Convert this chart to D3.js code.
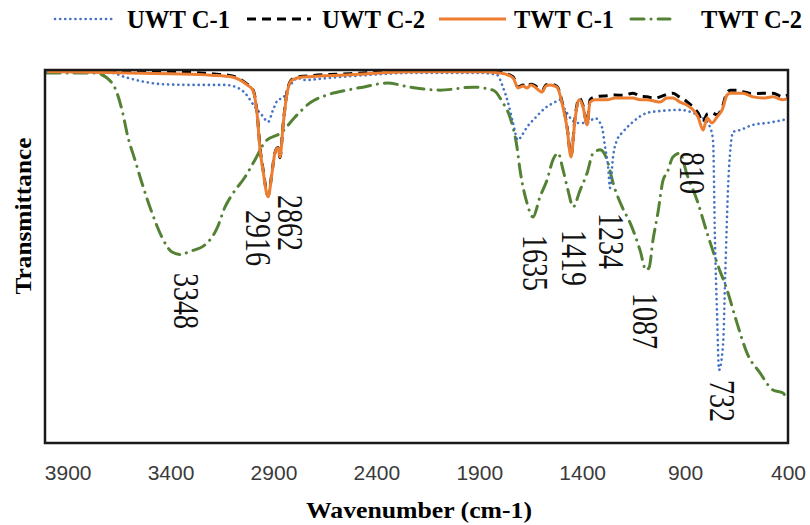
<!DOCTYPE html>
<html>
<head>
<meta charset="utf-8">
<script src="https://cdn.jsdelivr.net/npm/d3@7"></script>
<style>
  body { margin: 0; background: #fff; }
  svg { display: block; }
  .tick text { font-family: "Liberation Sans", Arial, sans-serif; font-size: 21px; fill: #3a3a3a; }
  .legend text, .axis-title { font-family: "Liberation Serif", "Times New Roman", serif; font-weight: bold; fill: #000; }
  .peak { font-family: "Liberation Serif", "Times New Roman", serif; font-size: 28px; fill: #111; }
</style>
</head>
<body>
<svg width="810" height="525"></svg>
<script>
// series: [wavenumber, transmittance]
const uwtC1 = [
	[4000, 99.5], [3684, 99.2], [3621, 98.1], [3524, 96.8], [3442, 96.2], [3281, 96.0], [3135, 96.0],
	[3072, 95.2], [3038, 93.8], [2990, 90.1], [2956, 87.9], [2926, 86.1], [2902, 89.3], [2878, 92.0],
	[2854, 92.5], [2829, 95.2], [2810, 96.5], [2781, 97.9], [2756, 97.3], [2625, 97.9], [2431, 98.7],
	[2236, 99.2], [1896, 99.2], [1814, 98.7], [1785, 95.4], [1760, 91.2], [1736, 85.8], [1712, 81.2],
	[1692, 82.6], [1668, 84.7], [1629, 87.1], [1580, 89.8], [1532, 91.4], [1508, 92.0], [1483, 89.3],
	[1425, 85.8], [1376, 85.8], [1338, 87.1], [1304, 84.7], [1289, 79.4], [1274, 74.0], [1265, 68.4],
	[1250, 76.7], [1231, 81.2], [1202, 83.4], [1153, 86.1], [1085, 88.5], [1022, 89.0], [925, 89.3],
	[861, 88.5], [813, 87.1], [779, 84.7], [764, 81.0], [755, 55.0], [745, 35.0], [735, 19.6],
	[715, 27.0], [705, 45.0], [690, 70.0], [676, 81.0], [667, 83.4], [633, 83.9], [570, 85.3],
	[502, 85.8], [424, 86.6], [400, 86.9]
];
const uwtC2 = [
	[4000, 99.8], [3700, 99.6], [3400, 99.5], [3200, 99.0], [3100, 98.4], [3028, 96.2], [3000, 94.8],
	[2980, 88.8], [2965, 79.0], [2951, 73.5], [2926, 66.3], [2907, 72.6], [2893, 77.8], [2878, 79.2],
	[2868, 76.5], [2854, 84.9], [2834, 94.0], [2810, 97.5], [2756, 98.3], [2528, 99.0], [2236, 99.7],
	[1896, 99.7], [1799, 99.4], [1736, 98.2], [1712, 95.4], [1687, 96.0], [1668, 95.5], [1649, 96.2],
	[1629, 95.8], [1595, 94.4], [1576, 96.0], [1556, 96.2], [1522, 95.6], [1498, 91.5], [1474, 85.0],
	[1454, 77.0], [1435, 87.0], [1415, 92.5], [1396, 90.5], [1376, 85.6], [1362, 92.0], [1338, 92.8],
	[1279, 93.1], [1240, 93.3], [1202, 93.2], [1153, 93.8], [1119, 93.0], [1085, 92.8], [1051, 92.4],
	[1022, 92.8], [988, 93.5], [959, 93.8], [934, 93.0], [891, 91.5], [861, 90.0], [837, 88.5],
	[813, 86.0], [793, 88.2], [769, 88.5], [745, 88.0], [720, 90.0], [696, 94.0], [681, 94.6],
	[640, 94.6], [619, 94.2], [570, 93.6], [521, 93.8], [473, 93.8], [424, 92.8], [400, 93.3]
];
const twtC1 = [
	[4000, 99.6], [3700, 99.3], [3400, 99.0], [3200, 98.6], [3100, 98.1], [3028, 96.0], [3000, 94.6],
	[2980, 88.5], [2965, 78.6], [2951, 73.2], [2926, 66.0], [2907, 72.4], [2893, 77.7], [2878, 79.1],
	[2868, 76.7], [2854, 84.7], [2834, 93.8], [2810, 97.3], [2756, 98.1], [2528, 98.7], [2236, 99.5],
	[1896, 99.5], [1799, 99.2], [1736, 97.9], [1712, 95.2], [1687, 95.7], [1668, 95.2], [1649, 96.0],
	[1629, 95.4], [1595, 94.1], [1576, 95.7], [1556, 96.0], [1522, 95.4], [1498, 91.2], [1474, 84.7],
	[1454, 76.7], [1435, 86.6], [1415, 92.0], [1396, 90.1], [1376, 85.3], [1362, 91.4], [1338, 92.0],
	[1279, 92.0], [1240, 92.5], [1202, 92.5], [1153, 92.5], [1119, 92.0], [1085, 92.0], [1051, 91.7],
	[1022, 91.4], [988, 92.5], [959, 92.5], [925, 91.4], [891, 90.6], [861, 89.3], [837, 87.4],
	[813, 83.9], [793, 87.1], [769, 85.8], [745, 87.4], [720, 89.3], [696, 93.3], [681, 93.8],
	[619, 93.8], [570, 92.8], [521, 92.5], [473, 92.8], [424, 92.0], [400, 92.5]
];
const twtC2 = [
	[4000, 99.2], [3767, 99.2], [3684, 96.5], [3636, 89.3], [3607, 82.0], [3573, 75.9], [3539, 69.7],
	[3490, 61.7], [3442, 55.2], [3393, 51.2], [3348, 50.5], [3315, 51.2], [3233, 53.1], [3174, 57.6],
	[3135, 63.3], [3096, 67.0], [3038, 71.3], [2990, 75.9], [2941, 80.7], [2858, 83.4], [2795, 87.4],
	[2722, 91.2], [2640, 93.3], [2543, 94.6], [2465, 95.4], [2348, 96.5], [2236, 95.4], [2091, 94.6],
	[1930, 95.4], [1833, 94.6], [1785, 91.2], [1751, 87.4], [1717, 79.4], [1702, 73.2], [1668, 64.3],
	[1639, 60.6], [1605, 66.0], [1571, 70.5], [1542, 75.9], [1517, 77.7], [1493, 73.2], [1469, 67.8],
	[1444, 63.3], [1410, 67.8], [1376, 72.4], [1347, 77.7], [1313, 78.6], [1279, 75.9], [1250, 69.7],
	[1206, 63.3], [1167, 59.0], [1119, 51.7], [1090, 46.4], [1075, 47.0], [1056, 54.4], [1032, 61.7],
	[1007, 70.5], [988, 72.4], [959, 76.7], [925, 77.7], [891, 72.0], [842, 65.1], [793, 56.3],
	[745, 48.3], [696, 41.0], [648, 32.2], [599, 24.1], [536, 18.8], [473, 14.2], [424, 13.4], [410, 12.1]
];

const seriesNames = ["UWT C-1", "UWT C-2", "TWT C-1", "TWT C-2"];
const xTicks = [3900, 3400, 2900, 2400, 1900, 1400, 900, 400];
const peakLabels = [3348, 2916, 2862, 1635, 1419, 1234, 1087, 810, 732];

//* layout / styles
const styles = {
	"UWT C-1": { color: "#4472c4", width: 2.6, dash: "0.1,5", cap: "round" },
	"UWT C-2": { color: "#000000", width: 3, dash: "9,6", cap: "butt" },
	"TWT C-1": { color: "#ed7d31", width: 3, dash: null, cap: "butt" },
	"TWT C-2": { color: "#548235", width: 3, dash: "13,7,0.1,7", cap: "round" }
};
const labelLayout = {
	3348: [4, 273], 2916: [-13, 210], 2862: [8, 195], 1635: [1, 235], 1419: [-5, 230],
	1234: [-6, 213], 1087: [-2, 293], 810: [-12, 152], 732: [2, 380]
};
const legendLayout = [
	{ x0: 55, x1: 114, tx: 127, tw: 103 },
	{ x0: 247, x1: 311, tx: 322, tw: 103 },
	{ x0: 439, x1: 506, tx: 514, tw: 100 },
	{ x0: 631, x1: 670, tx: 701, tw: 101 }
];

const svg = d3.select("svg");
const plot = { left: 45, right: 788, top: 70, bottom: 443 };

//* scales
const x = d3.scaleLinear().domain([4010, 400]).range([plot.left, plot.right]);
const y = d3.scaleLinear().domain([0, 100]).range([plot.bottom, plot.top]);
const line = d3.line()
	.x((d) => x(d[0]))
	.y((d) => y(d[1]))
	.curve(d3.curveMonotoneX);

//* axis
svg.append("g")
	.attr("transform", `translate(0, ${plot.bottom})`)
	.call(d3.axisBottom(x).tickValues(xTicks).tickSize(0).tickPadding(22).tickFormat(d3.format("d")))
	.call((g) => g.select(".domain").remove())
	.selectAll("text")
	.attr("dy", "0.72em");

svg.append("text")
	.attr("class", "axis-title")
	.attr("x", 419)
	.attr("y", 518)
	.attr("text-anchor", "middle")
	.attr("font-size", 24)
	.attr("textLength", 226)
	.attr("lengthAdjust", "spacingAndGlyphs")
	.text("Wavenumber (cm-1)");

svg.append("text")
	.attr("class", "axis-title")
	.attr("transform", "translate(31, 216) rotate(-90)")
	.attr("text-anchor", "middle")
	.attr("font-size", 23)
	.attr("textLength", 157)
	.attr("lengthAdjust", "spacingAndGlyphs")
	.text("Transmittance");

//* lines
const seriesData = [uwtC1, uwtC2, twtC1, twtC2];
const drawOrder = [3, 0, 1, 2];
svg.append("g")
	.selectAll("path")
	.data(drawOrder)
	.join("path")
	.attr("d", (i) => line(seriesData[i]))
	.attr("fill", "none")
	.attr("stroke", (i) => styles[seriesNames[i]].color)
	.attr("stroke-width", (i) => styles[seriesNames[i]].width)
	.attr("stroke-dasharray", (i) => styles[seriesNames[i]].dash)
	.attr("stroke-linecap", (i) => styles[seriesNames[i]].cap)
	.attr("stroke-linejoin", "round");

//* frame
svg.append("rect")
	.attr("x", plot.left)
	.attr("y", plot.top)
	.attr("width", plot.right - plot.left)
	.attr("height", plot.bottom - plot.top)
	.attr("fill", "none")
	.attr("stroke", "#1a1a1a")
	.attr("stroke-width", 2.5);

//* peak labels
svg.append("g")
	.selectAll("text")
	.data(peakLabels)
	.join("text")
	.attr("class", "peak")
	.attr("transform", (d) => `translate(${x(d) + labelLayout[d][0]}, ${labelLayout[d][1]}) rotate(90) scale(1, 1.25)`)
	.attr("dy", "0.33em")
	.text((d) => d);

//* legend
const legend = svg.append("g").attr("class", "legend");
const items = legend.selectAll("g")
	.data(seriesNames)
	.join("g");
items.append("line")
	.attr("x1", (_, i) => legendLayout[i].x0)
	.attr("x2", (_, i) => legendLayout[i].x1)
	.attr("y1", 19)
	.attr("y2", 19)
	.attr("stroke", (d) => styles[d].color)
	.attr("stroke-width", (d) => styles[d].width)
	.attr("stroke-dasharray", (d) => styles[d].dash)
	.attr("stroke-linecap", (d) => styles[d].cap);
items.append("text")
	.attr("x", (_, i) => legendLayout[i].tx)
	.attr("y", 28)
	.attr("font-size", 26)
	.attr("textLength", (_, i) => legendLayout[i].tw)
	.attr("lengthAdjust", "spacingAndGlyphs")
	.text((d) => d);
</script>
</body>
</html>
